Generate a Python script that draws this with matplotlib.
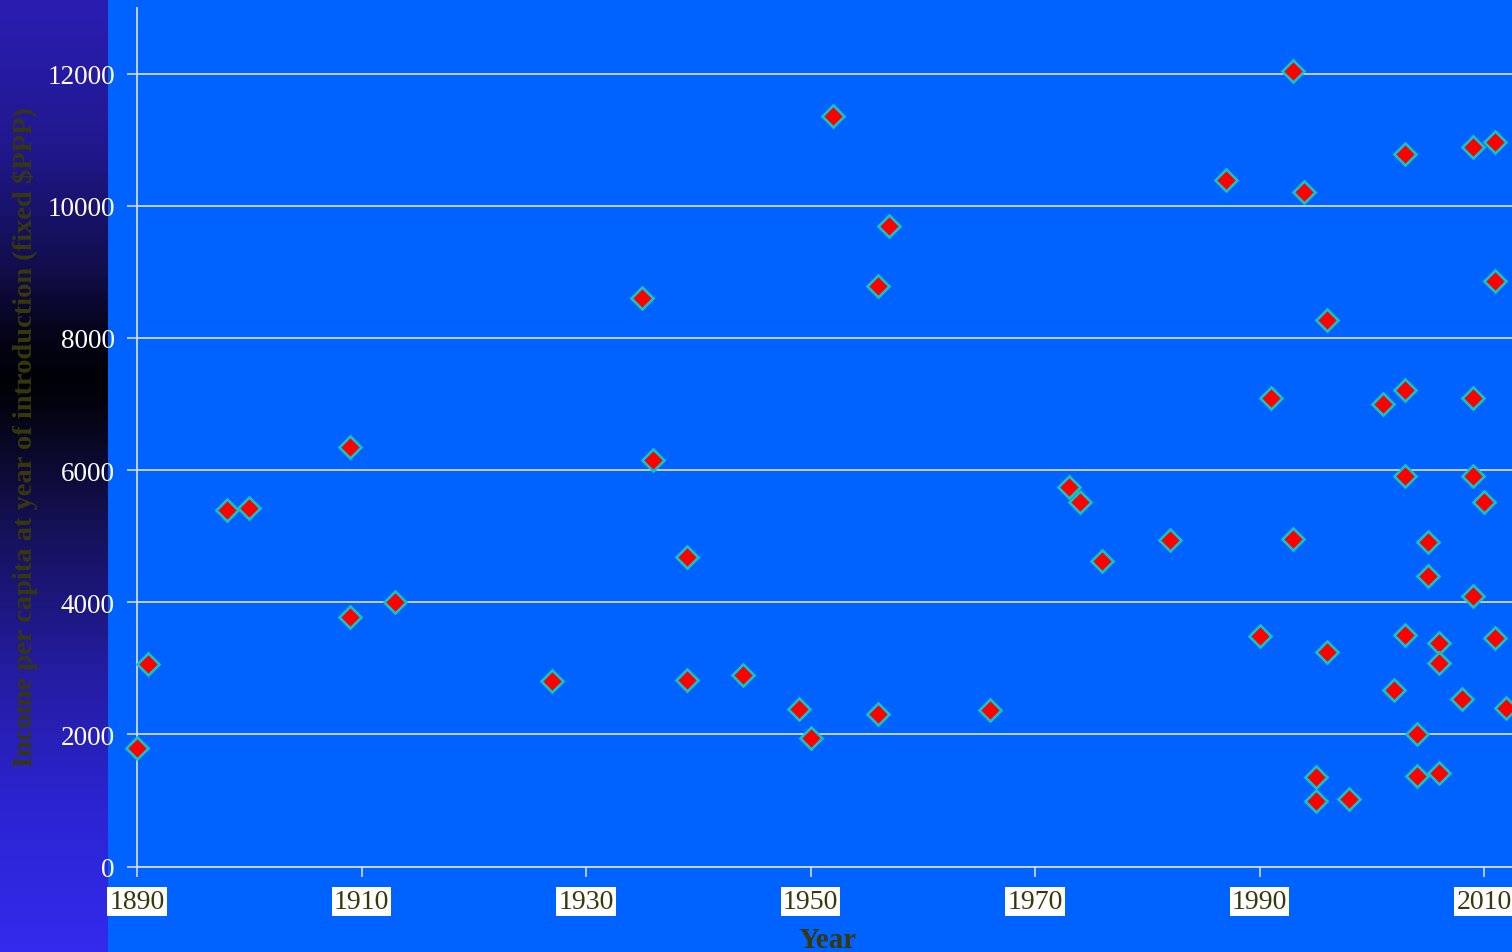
import numpy as np
import matplotlib
matplotlib.use("Agg")
import matplotlib.pyplot as plt
from matplotlib.colors import LinearSegmentedColormap

# Year of introduction and income per capita at that year (fixed $PPP)
years = [1890, 1891, 1898, 1900, 1909, 1909, 1913, 1927, 1935, 1936,
         1939, 1939, 1944, 1949, 1950, 1952, 1956, 1956, 1957, 1966,
         1973, 1974, 1976, 1982, 1987, 1990, 1991, 1993, 1993, 1994,
         1995, 1995, 1996, 1996, 1998, 2001, 2002, 2003, 2003, 2003,
         2003, 2004, 2004, 2005, 2005, 2006, 2006, 2006, 2008, 2009,
         2009, 2009, 2009, 2010, 2011, 2011, 2011, 2012]
income = [1790, 3070, 5400, 5430, 6355, 3770, 4000, 2800, 8610, 6145,
          4690, 2830, 2905, 2390, 1940, 11365, 8780, 2315, 9700, 2375,
          5750, 5510, 4630, 4935, 10395, 3495, 7095, 12045, 4950, 10215,
          1360, 985, 8275, 3240, 1015, 7005, 2665, 10790, 7205, 5915,
          3510, 2000, 1375, 4905, 4390, 3375, 3085, 1420, 2540, 10895,
          7095, 5915, 4100, 5510, 10970, 8865, 3465, 2405]

x_ticks = [1890, 1910, 1930, 1950, 1970, 1990, 2010]
y_ticks = [0, 2000, 4000, 6000, 8000, 10000, 12000]

BLUE = '#0062ff'
GRID = '#d0d8fa'
OLIVE = '#38380c'
SERIF = 'Liberation Serif'

W, H = 1512, 953
fig = plt.figure(figsize=(W / 100, H / 100), dpi=100)
fig.patch.set_facecolor(BLUE)

# dark vertical band on the left
strip = fig.add_axes([0, 0, 108 / W, 1])
strip.axis('off')
band = LinearSegmentedColormap.from_list('band', [
    (0.00, (0.165, 0.115, 0.700)),
    (0.15, (0.130, 0.095, 0.560)),
    (0.28, (0.070, 0.055, 0.300)),
    (0.35, (0.020, 0.015, 0.100)),
    (0.40, (0.000, 0.000, 0.020)),
    (0.44, (0.020, 0.020, 0.090)),
    (0.55, (0.080, 0.065, 0.330)),
    (0.70, (0.140, 0.110, 0.620)),
    (0.85, (0.170, 0.140, 0.820)),
    (1.00, (0.200, 0.165, 0.930)),
])
strip.imshow(np.linspace(0, 1, 600).reshape(-1, 1), aspect='auto', cmap=band,
             extent=[0, 1, 0, 1], origin='upper')
strip.set_xlim(0, 1)
strip.set_ylim(0, 1)

ax = fig.add_axes([137 / W, 85.5 / H, (W - 137) / W, 859 / H])
ax.set_facecolor(BLUE)
ax.set_xlim(1890, 1890 + (W - 137) / 11.225)
ax.set_ylim(0, 13000)
ax.set_xticks(x_ticks)
ax.set_yticks(y_ticks)

ax.grid(axis='y', color=GRID, lw=1.3)
ax.grid(axis='x', visible=False)
for side in ('top', 'right'):
    ax.spines[side].set_visible(False)
for side in ('left', 'bottom'):
    ax.spines[side].set_color(GRID)
    ax.spines[side].set_linewidth(1.3)

ax.tick_params(axis='both', direction='out', length=7, width=1.2, color=GRID)
ax.tick_params(axis='y', pad=9, labelsize=19.5, labelcolor='white')
ax.tick_params(axis='x', pad=9, labelsize=20, labelcolor=OLIVE)
for lbl in ax.get_yticklabels():
    lbl.set_family(SERIF)
for lbl in ax.get_xticklabels():
    lbl.set_family(SERIF)
    lbl.set_bbox(dict(facecolor='white', edgecolor='none', pad=1.5))

ax.plot(years, income, linestyle='none', marker='D', ms=11.5,
        mfc='#ff0000', mec='#12c4c4', mew=1.9, clip_on=False, zorder=3)

fig.text(25 / W, 1 - 437.5 / H,
         'Income per capita at year of introduction (fixed $PPP)',
         rotation=90, ha='center', va='center', fontsize=20.5,
         fontweight='bold', color=OLIVE, family=SERIF)
fig.text(828 / W, 1 - 941 / H, 'Year', ha='center', va='center',
         fontsize=21, fontweight='bold', color=OLIVE, family=SERIF)

fig.savefig('out.png', dpi=100, facecolor=fig.get_facecolor())
